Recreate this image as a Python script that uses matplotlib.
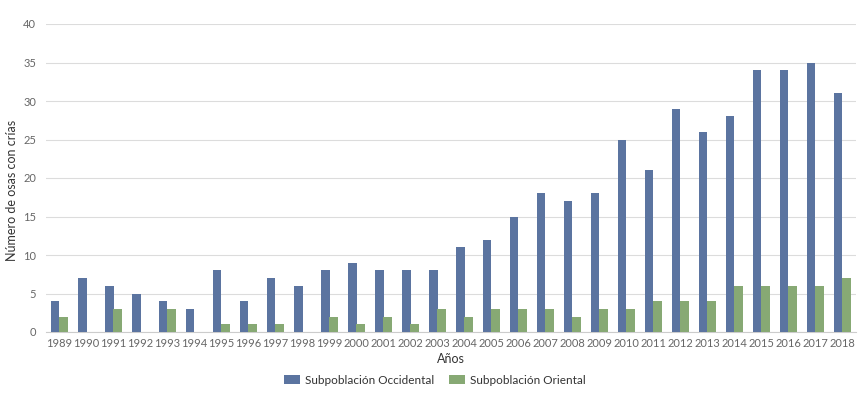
import matplotlib.pyplot as plt
import numpy as np

plt.rcParams['font.family'] = ['Lato', 'DejaVu Sans']

# Daten
anios = list(range(1989, 2019))
occidental = [4, 7, 6, 5, 4, 3, 8, 4, 7, 6, 8, 9, 8, 8, 8, 11, 12, 15, 18, 17,
              18, 25, 21, 29, 26, 28, 34, 34, 35, 31]
oriental = [2, 0, 3, 0, 3, 0, 1, 1, 1, 0, 2, 1, 2, 1, 3, 2, 3, 3, 3, 2,
            3, 3, 4, 4, 4, 6, 6, 6, 6, 7]

fig = plt.figure(figsize=(8.62, 3.93), dpi=100)
ax = fig.add_axes([46 / 862, 61 / 393, 810 / 862, 308 / 393])

x = np.arange(len(anios))
w = 0.31
ax.bar(x - w / 2, occidental, w, color='#5b74a0', label='Subpoblación Occidental', zorder=3)
ax.bar(x + w / 2, oriental, w, color='#87a974', label='Subpoblación Oriental', zorder=3)

ax.set_xlim(-0.5, len(anios) - 0.5)
ax.set_ylim(0, 40)
ax.set_yticks(range(0, 41, 5))
ax.set_xticks(x)
ax.set_xticklabels([str(a) for a in anios])
ax.tick_params(axis='both', length=0, labelsize=8, colors='#666666')
ax.tick_params(axis='x', pad=4)
ax.tick_params(axis='y', pad=7)
ax.grid(axis='y', color='#dcdcdc', linewidth=0.8, zorder=0)
for s in ['top', 'right', 'left']:
    ax.spines[s].set_visible(False)
ax.spines['bottom'].set_color('#cccccc')

ax.set_xlabel('Años', fontsize=9, color='#333333', labelpad=3)
ax.set_ylabel('Número de osas con crías', fontsize=9, color='#333333')
ax.yaxis.set_label_coords(-0.034, 0.46)

ax.legend(loc='upper center', bbox_to_anchor=(0.48, -0.105), ncol=2, frameon=False,
          fontsize=8.5, handlelength=1.4, handleheight=0.8, columnspacing=1.2,
          handletextpad=0.4, labelcolor='#333333')

fig.savefig('out.png', dpi=100)
